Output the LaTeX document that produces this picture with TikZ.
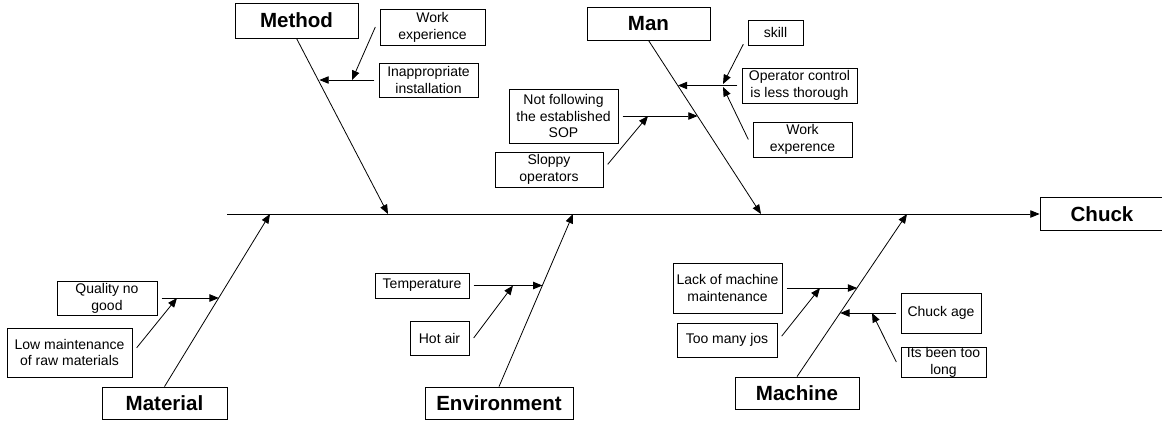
\documentclass[tikz,border=0pt]{standalone}
\usepackage{fontspec}
\setmainfont{Liberation Sans}
\usetikzlibrary{arrows.meta}

\begin{document}
\begin{tikzpicture}[x=0.75pt,y=-0.75pt,line width=0.6pt,
  cause/.style={draw,inner sep=0pt,outer sep=3.5pt,align=center,font=\fontsize{10.5}{12.6}\selectfont},
  bone/.style={draw,inner sep=0pt,font=\fontsize{15.4}{18}\selectfont\bfseries},
  arr/.style={-{Triangle[length=7pt,width=5.6pt]}}]
\useasboundingbox (0,0) rectangle (1162,421);

% main categories
\node[bone,minimum width=92.25pt,minimum height=26.25pt] (method) at (296.5,20.5) {Method};
\node[bone,minimum width=92.25pt,minimum height=24.75pt] (man) at (648.5,23.5) {Man};
\node[bone,minimum width=93.75pt,minimum height=24pt] (material) at (164.5,403) {Material};
\node[bone,minimum width=111pt,minimum height=24pt] (environment) at (499,403) {Environment};
\node[bone,minimum width=93pt,minimum height=24pt] (machine) at (797,393) {Machine};
\node[bone,minimum width=93pt,minimum height=24.75pt] (chuck) at (1102,214) {Chuck};

% causes
\node[cause,minimum width=78.75pt,minimum height=27pt] (workexp) at (432.5,27) {Work\\experience};
\node[cause,minimum width=74.25pt,minimum height=25.5pt] (install) at (428.5,80) {Inappropriate\\installation};
\node[cause,minimum width=41.25pt,minimum height=18.75pt] (skill) at (775.5,32.5) {skill};
\node[cause,minimum width=86.25pt,minimum height=26.25pt] (opctrl) at (799.5,85.5) {Operator control\\is less thorough};
\node[cause,minimum width=74.25pt,minimum height=26.25pt] (workexpe) at (802.5,139.5) {Work\\experence};
\node[cause,minimum width=81.75pt,minimum height=40.5pt] (sop) at (563.5,116) {Not following\\the established\\SOP};
\node[cause,minimum width=81pt,minimum height=26.25pt] (sloppy) at (549,169.5) {Sloppy\\operators};
\node[cause,minimum width=75pt,minimum height=25.5pt] (quality) at (107,298) {Quality no\\good};
\node[cause,minimum width=93.75pt,minimum height=36.75pt] (lowmaint) at (69.5,352.5) {Low maintenance\\of raw materials};
\node[cause,minimum width=70.5pt,minimum height=18.75pt] (temp) at (422,285.5) {Temperature};
\node[cause,minimum width=44.25pt,minimum height=25.5pt] (hotair) at (439.5,338) {Hot air};
\node[cause,minimum width=81.75pt,minimum height=37.5pt] (lack) at (727.5,288) {Lack of machine\\maintenance};
\node[cause,minimum width=75pt,minimum height=25.5pt] (toomany) at (727,340) {Too many jos};
\node[cause,minimum width=60pt,minimum height=30pt] (chuckage) at (941,313) {Chuck age};
\node[cause,minimum width=63.75pt,minimum height=22.5pt] (toolong) at (943.5,362) {Its been too\\long};

% spine and bones
\coordinate (tail) at (227,214);
\coordinate (hmethod) at (388,214);
\coordinate (hman) at (761,214);
\coordinate (hmaterial) at (270,214);
\coordinate (henv) at (573,214);
\coordinate (hmachine) at (907,214);
\draw[arr] (tail) -- (chuck.west);
\draw[arr] (method.south) -- (hmethod);
\draw[arr] (man.south) -- (hman);
\draw[arr] (material.north) -- (hmaterial);
\draw[arr] (environment.north) -- (henv);
\draw[arr] (machine.north) -- (hmachine);

% points on the bones
\coordinate (c1) at (319.4,80);
\coordinate (c2) at (352,80);
\coordinate (c3) at (677.9,85.5);
\coordinate (c4) at (723,84);
\coordinate (c5) at (723,87);
\coordinate (c6) at (697.6,116);
\coordinate (c7) at (648,116);
\coordinate (c8) at (218.8,298);
\coordinate (c9) at (177,298);
\coordinate (c10) at (542.4,285.5);
\coordinate (c11) at (513,285.5);
\coordinate (c12) at (857.1,288);
\coordinate (c13) at (820,288);
\coordinate (c14) at (840.2,313);
\coordinate (c15) at (872,313);

\draw[arr] (install.west) -- (c1);
\draw[arr] (workexp.west) -- (c2);
\draw[arr] (opctrl.west) -- (c3);
\draw[arr] (skill.200) -- (c4);
\draw[arr] (workexpe.west) -- (c5);
\draw[arr] (sop.east) -- (c6);
\draw[arr] (sloppy.5) -- (c7);
\draw[arr] (quality.east) -- (c8);
\draw[arr] (lowmaint.4) -- (c9);
\draw[arr] (temp.east) -- (c10);
\draw[arr] (hotair.east) -- (c11);
\draw[arr] (lack.east) -- (c12);
\draw[arr] (toomany.4) -- (c13);
\draw[arr] (chuckage.west) -- (c14);
\draw[arr] (toolong.west) -- (c15);
\end{tikzpicture}
\end{document}
